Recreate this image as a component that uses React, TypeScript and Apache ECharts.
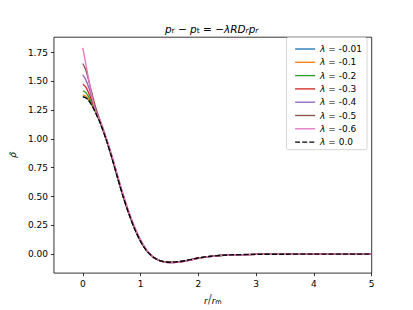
import React, { useEffect, useRef } from "react";
import * as echarts from "echarts";

const rValues = [0, 0.05, 0.1, 0.15, 0.2, 0.25, 0.3, 0.4, 0.5, 0.6, 0.7, 0.8, 0.9, 1.0, 1.1, 1.2, 1.3, 1.4, 1.5, 1.6, 1.8, 2.0, 2.2, 2.5, 3.0, 3.5, 4.0, 5.0];

const rhoL001 = [1.367, 1.359, 1.337, 1.297, 1.252, 1.197, 1.141, 1.0, 0.84, 0.665, 0.495, 0.345, 0.215, 0.11, 0.032, -0.02, -0.05, -0.066, -0.071, -0.069, -0.055, -0.034, -0.02, -0.008, -0.002, -0.001, 0, 0];
const rhoL01 = [1.383, 1.373, 1.346, 1.304, 1.256, 1.2, 1.143, 1.003, 0.843, 0.668, 0.498, 0.348, 0.217, 0.112, 0.033, -0.02, -0.05, -0.066, -0.071, -0.069, -0.055, -0.034, -0.02, -0.008, -0.002, -0.001, 0, 0];
const rhoL02 = [1.418, 1.403, 1.367, 1.318, 1.264, 1.205, 1.145, 1.005, 0.845, 0.67, 0.5, 0.35, 0.219, 0.113, 0.034, -0.019, -0.05, -0.066, -0.072, -0.07, -0.056, -0.035, -0.02, -0.008, -0.002, -0.001, 0, 0];
const rhoL03 = [1.475, 1.451, 1.401, 1.34, 1.276, 1.212, 1.148, 1.007, 0.847, 0.672, 0.502, 0.352, 0.221, 0.115, 0.035, -0.018, -0.05, -0.066, -0.072, -0.07, -0.056, -0.035, -0.02, -0.008, -0.002, -0.001, 0, 0];
const rhoL04 = [1.555, 1.515, 1.451, 1.372, 1.294, 1.22, 1.152, 1.01, 0.85, 0.675, 0.505, 0.355, 0.223, 0.117, 0.036, -0.018, -0.05, -0.067, -0.073, -0.071, -0.057, -0.035, -0.021, -0.008, -0.002, -0.001, 0, 0];
const rhoL05 = [1.655, 1.6, 1.511, 1.412, 1.312, 1.231, 1.157, 1.013, 0.855, 0.68, 0.51, 0.358, 0.226, 0.119, 0.037, -0.017, -0.05, -0.068, -0.074, -0.072, -0.058, -0.036, -0.021, -0.009, -0.002, -0.001, 0, 0];
const rhoL06 = [1.79, 1.655, 1.522, 1.392, 1.278, 1.212, 1.162, 1.02, 0.862, 0.687, 0.517, 0.364, 0.232, 0.124, 0.04, -0.016, -0.051, -0.07, -0.076, -0.074, -0.06, -0.037, -0.022, -0.009, -0.003, -0.001, 0, 0];
const rhoL0 = [1.365, 1.357, 1.335, 1.295, 1.25, 1.195, 1.14, 1.0, 0.84, 0.665, 0.495, 0.345, 0.215, 0.11, 0.032, -0.02, -0.05, -0.066, -0.071, -0.069, -0.055, -0.034, -0.02, -0.008, -0.002, -0.001, 0, 0];

const seriesNames = ["λ = -0.01", "λ = -0.1", "λ = -0.2", "λ = -0.3", "λ = -0.4", "λ = -0.5", "λ = -0.6", "λ = 0.0"];
const seriesValues = [rhoL001, rhoL01, rhoL02, rhoL03, rhoL04, rhoL05, rhoL06, rhoL0];
const seriesColors = ["#1f77b4", "#ff7f0e", "#2ca02c", "#d62728", "#9467bd", "#8c564b", "#e377c2", "#000000"];

const xTicks = [0, 1, 2, 3, 4, 5];
const yTicks = [0, 0.25, 0.5, 0.75, 1.0, 1.25, 1.5, 1.75];

const FONT = "DejaVu Sans";

export default function App() {
  const ref = useRef<HTMLDivElement>(null);
  useEffect(() => {
    if (!ref.current) return;
    const chart = echarts.init(ref.current, null, { renderer: "svg" });
    const gridLeft = 51.6, gridTop = 37.2, gridW = 320.1, gridH = 238.7;
    const series = seriesNames.map((name, i) => ({
      name,
      type: "line",
      data: rValues.map((r, j) => [r, seriesValues[i][j]]),
      showSymbol: false,
      symbol: "none",
      smooth: 0.3,
      clip: true,
      lineStyle: {
        color: seriesColors[i],
        width: 1.35,
        type: i === 7 ? [5, 2.1] : "solid",
      },
      itemStyle: { color: seriesColors[i] },
      emphasis: { disabled: true },
    }));
    chart.setOption({
      animation: false,
      textStyle: { fontFamily: FONT },
      grid: {
        left: gridLeft,
        top: gridTop,
        width: gridW,
        height: gridH,
        show: true,
        borderColor: "#000",
        borderWidth: 0.8,
        containLabel: false,
      },
      xAxis: {
        type: "value",
        min: -0.5,
        max: 5,
        name: "{i|r}/{i|r}{s|m}",
        nameLocation: "middle",
        nameGap: 17,
        nameTextStyle: {
          rich: {
            i: { fontFamily: FONT, fontSize: 9, fontStyle: "italic", color: "#000", verticalAlign: "bottom", lineHeight: 12 },
            s: { fontFamily: FONT, fontSize: 6.5, color: "#000", verticalAlign: "bottom", lineHeight: 6 },
          },
        },
        axisLine: { show: false, onZero: false },
        splitLine: { show: false },
        axisTick: { show: true, length: 3, inside: false, lineStyle: { color: "#000", width: 0.8 }, customValues: xTicks },
        axisLabel: { customValues: xTicks, color: "#000", fontSize: 9, fontFamily: FONT, margin: 6, formatter: (v: number) => String(v) },
      },
      yAxis: {
        type: "value",
        min: -0.165,
        max: 1.883,
        name: "ρ̃",
        nameLocation: "middle",
        nameGap: 36,
        nameRotate: 90,
        nameTextStyle: { fontFamily: FONT, fontSize: 9, fontStyle: "italic", color: "#000" },
        axisLine: { show: false, onZero: false },
        splitLine: { show: false },
        axisTick: { show: true, length: 3, inside: false, lineStyle: { color: "#000", width: 0.8 }, customValues: yTicks },
        axisLabel: { customValues: yTicks, color: "#000", fontSize: 9, fontFamily: FONT, margin: 6, formatter: (v: number) => v.toFixed(2) },
      },
      legend: {
        data: seriesNames,
        orient: "vertical",
        right: 46,
        top: 37.5,
        padding: [7, 5, 3, 8],
        itemWidth: 20,
        itemHeight: 9,
        itemGap: 4.3,
        borderColor: "#cccccc",
        borderWidth: 0.8,
        borderRadius: 2,
        backgroundColor: "rgba(255,255,255,0.8)",
        itemStyle: { opacity: 0, color: "transparent", borderWidth: 0 },
        lineStyle: { width: 1.35 },
        textStyle: {
          fontFamily: FONT,
          fontSize: 9,
          color: "#000",
          rich: { i: { fontFamily: FONT, fontSize: 9, fontStyle: "italic", color: "#000" } },
        },
        formatter: (name: string) => name.replace("λ", "{i|λ}"),
        selectedMode: false,
      },
      graphic: [
        {
          type: "text",
          x: gridLeft + gridW / 2,
          y: 28,
          style: {
            text: "{i|p}{s|r}{n| − }{i|p}{s|t}{n| = −}{i|λRD}{si|r}{i|p}{si|r}",
            align: "center",
            verticalAlign: "middle",
            fill: "#000",
            rich: {
              i: { fontFamily: FONT, fontSize: 10.5, fontStyle: "italic", fill: "#000", verticalAlign: "bottom", lineHeight: 13 },
              n: { fontFamily: FONT, fontSize: 10.5, fill: "#000", verticalAlign: "bottom", lineHeight: 13 },
              s: { fontFamily: FONT, fontSize: 7.5, fill: "#000", verticalAlign: "bottom", lineHeight: 6 },
              si: { fontFamily: FONT, fontSize: 7.5, fontStyle: "italic", fill: "#000", verticalAlign: "bottom", lineHeight: 6 },
            },
          },
        },
      ],
      series,
    });
    return () => chart.dispose();
  }, []);
  return (
    <div
      ref={ref}
      style={{ position: "fixed", left: 0, top: 0, width: 413, height: 310, background: "#fff" }}
    />
  );
}
